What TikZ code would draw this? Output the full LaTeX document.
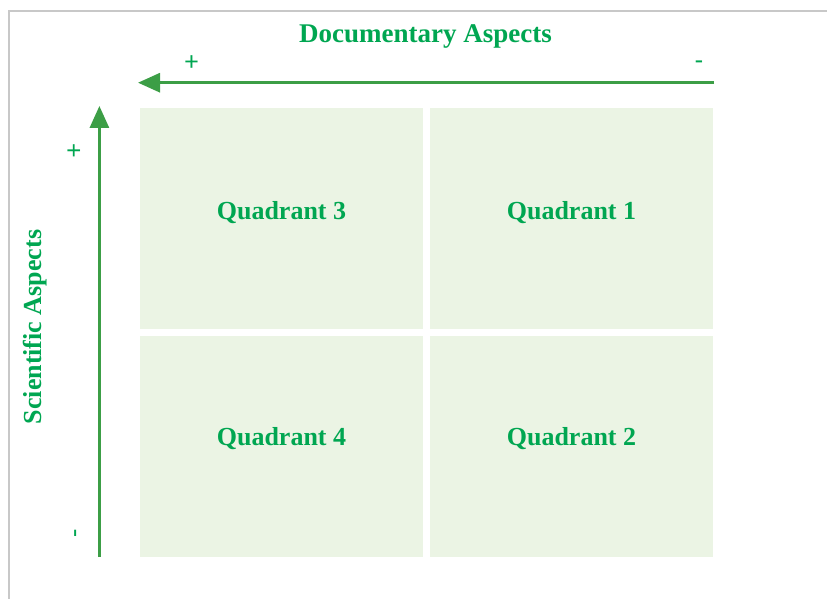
\documentclass[tikz,border=0pt]{standalone}
\usepackage{fontspec}
\setmainfont{Liberation Serif}
\newfontfamily\signfont{Carlito}
\usetikzlibrary{arrows.meta}
\definecolor{txtgreen}{RGB}{0,166,81}
\definecolor{arrgreen}{RGB}{60,158,70}
\definecolor{boxfill}{RGB}{235,244,228}
\definecolor{frame}{RGB}{200,200,200}
\tikzset{
  quad/.style={fill=boxfill, draw=none},
  qlabel/.style={text=txtgreen, font=\fontsize{26}{30}\selectfont\bfseries, anchor=base, inner sep=0pt},
  axlabel/.style={text=txtgreen, font=\fontsize{26}{30}\selectfont\bfseries, inner sep=0pt},
  sign/.style={text=txtgreen, font=\signfont\fontsize{27}{30}\selectfont, inner sep=0pt},
  axis/.style={draw=arrgreen, line width=3pt, -{Triangle[length=22pt,width=19pt]}}
}
\begin{document}
\begin{tikzpicture}[x=1pt,y=-1pt]
\useasboundingbox (0,0) rectangle (827,599);
% frame
\draw[frame, line width=2pt] (9.3,599) -- (9.3,11) -- (827,11);
% quadrants
\fill[quad] (140,108) rectangle (423,329);
\fill[quad] (430,108) rectangle (713,329);
\fill[quad] (140,336) rectangle (423,557);
\fill[quad] (430,336) rectangle (713,557);
\node[qlabel] (q3) at (281.5,219.5) {Quadrant 3};
\node[qlabel] (q1) at (571.5,219.5) {Quadrant 1};
\node[qlabel] (q4) at (281.5,445.5) {Quadrant 4};
\node[qlabel] (q2) at (571.5,445.5) {Quadrant 2};
% axes
\coordinate (hs) at (714,82.7);
\coordinate (he) at (138,82.7);
\coordinate (vs) at (99.4,557);
\coordinate (ve) at (99.4,106);
\draw[axis] (hs) -- (he);
\draw[axis] (vs) -- (ve);
% labels
\node[axlabel, anchor=base, font=\fontsize{27}{30}\selectfont\bfseries] (doc) at (425.5,43) {Documentary Aspects};
\node[axlabel, anchor=base, rotate=90] (sci) at (41,327) {Scientific Aspects};
\node[sign] (hp) at (191.5,63) {+};
\node[sign] (hm) at (699,65.5) {-};
\node[sign, rotate=90] (vp) at (75,151) {+};
\node[sign, rotate=90] (vm) at (78.5,533.7) {-};
\end{tikzpicture}
\end{document}
